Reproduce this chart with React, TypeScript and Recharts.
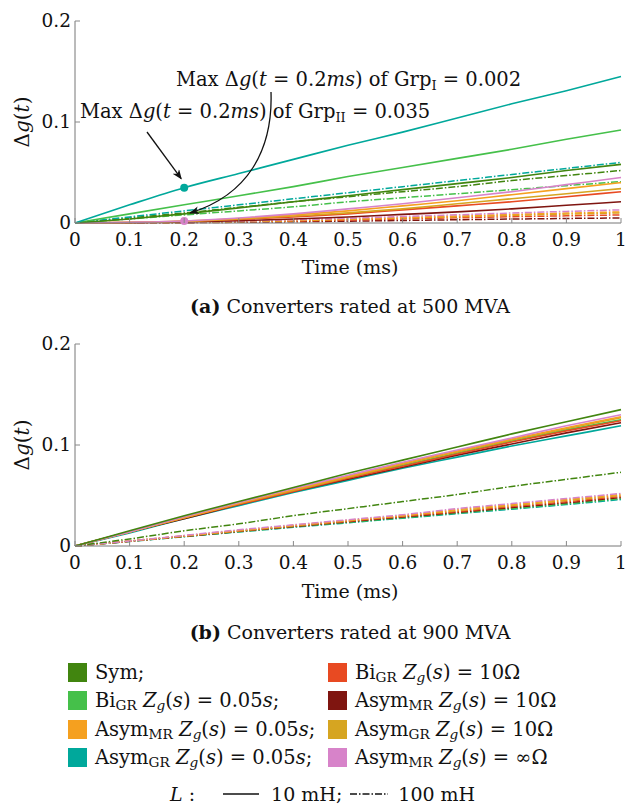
import React from 'react';
import { LineChart, Line, XAxis, YAxis, ReferenceDot } from 'recharts';

// time samples (ms)
const T = [0, 0.1, 0.2, 0.3, 0.4, 0.5, 0.6, 0.7, 0.8, 0.9, 1];
const X_TICKS = [0, 0.1, 0.2, 0.3, 0.4, 0.5, 0.6, 0.7, 0.8, 0.9, 1];
const Y_TICKS = [0, 0.1, 0.2];

// (a) 500 MVA, L = 10 mH
const a10_sym = [0, 0.004, 0.009, 0.015, 0.021, 0.027, 0.033, 0.039, 0.045, 0.052, 0.058];
const a10_biGR05 = [0, 0.009, 0.018, 0.027, 0.036, 0.046, 0.055, 0.064, 0.073, 0.083, 0.092];
const a10_asymMR05 = [0, 0.0006, 0.002, 0.0045, 0.008, 0.012, 0.017, 0.022, 0.028, 0.034, 0.040];
const a10_asymGR05 = [0, 0.018, 0.035, 0.049, 0.063, 0.077, 0.090, 0.104, 0.118, 0.131, 0.145];
const a10_biGR10 = [0, 0.0004, 0.0015, 0.0035, 0.006, 0.009, 0.013, 0.017, 0.021, 0.026, 0.031];
const a10_asymMR10 = [0, 0.0003, 0.001, 0.0023, 0.004, 0.006, 0.0085, 0.011, 0.014, 0.0175, 0.021];
const a10_asymGR10 = [0, 0.0005, 0.0017, 0.004, 0.007, 0.010, 0.014, 0.019, 0.024, 0.029, 0.034];
const a10_asymMRinf = [0, 0.0007, 0.002, 0.005, 0.009, 0.014, 0.019, 0.025, 0.031, 0.038, 0.045];

// (a) 500 MVA, L = 100 mH
const a100_sym = [0, 0.005, 0.010, 0.0155, 0.021, 0.026, 0.031, 0.036, 0.042, 0.047, 0.052];
const a100_biGR05 = [0, 0.004, 0.008, 0.012, 0.016, 0.021, 0.025, 0.029, 0.033, 0.037, 0.041];
const a100_asymMR05 = [0, 0.0002, 0.0007, 0.0015, 0.0026, 0.004, 0.0054, 0.0069, 0.0085, 0.0098, 0.011];
const a100_asymGR05 = [0, 0.006, 0.012, 0.018, 0.024, 0.030, 0.036, 0.042, 0.048, 0.054, 0.060];
const a100_biGR10 = [0, 0.0001, 0.0005, 0.0011, 0.0019, 0.0029, 0.004, 0.0051, 0.0062, 0.0071, 0.008];
const a100_asymMR10 = [0, 0.0001, 0.0003, 0.0007, 0.0012, 0.0018, 0.0025, 0.0032, 0.0039, 0.0045, 0.005];
const a100_asymGR10 = [0, 0.0002, 0.0006, 0.0013, 0.0023, 0.0036, 0.0049, 0.0062, 0.0076, 0.0088, 0.010];
const a100_asymMRinf = [0, 0.0003, 0.0009, 0.0019, 0.0032, 0.0047, 0.0064, 0.0081, 0.0099, 0.0115, 0.013];

// (b) 900 MVA, L = 10 mH
const b10_sym = [0, 0.015, 0.030, 0.044, 0.058, 0.072, 0.085, 0.098, 0.111, 0.123, 0.135];
const b10_biGR05 = [0, 0.014, 0.028, 0.042, 0.055, 0.068, 0.080, 0.092, 0.104, 0.115, 0.125];
const b10_asymMR05 = [0, 0.014, 0.028, 0.042, 0.056, 0.069, 0.082, 0.094, 0.106, 0.117, 0.128];
const b10_asymGR05 = [0, 0.013, 0.027, 0.040, 0.053, 0.065, 0.077, 0.088, 0.099, 0.109, 0.119];
const b10_biGR10 = [0, 0.014, 0.028, 0.041, 0.054, 0.067, 0.079, 0.091, 0.103, 0.114, 0.124];
const b10_asymMR10 = [0, 0.014, 0.027, 0.041, 0.054, 0.066, 0.078, 0.090, 0.101, 0.112, 0.122];
const b10_asymGR10 = [0, 0.014, 0.028, 0.042, 0.055, 0.068, 0.081, 0.093, 0.105, 0.116, 0.127];
const b10_asymMRinf = [0, 0.014, 0.029, 0.043, 0.057, 0.070, 0.083, 0.095, 0.107, 0.119, 0.130];

// (b) 900 MVA, L = 100 mH
const b100_sym = [0, 0.007, 0.015, 0.022, 0.030, 0.037, 0.044, 0.051, 0.059, 0.066, 0.073];
const b100_biGR05 = [0, 0.0046, 0.0094, 0.0142, 0.0189, 0.0235, 0.028, 0.0326, 0.0372, 0.0418, 0.047];
const b100_asymMR05 = [0, 0.005, 0.010, 0.0155, 0.0205, 0.0255, 0.030, 0.036, 0.041, 0.046, 0.051];
const b100_asymGR05 = [0, 0.0045, 0.0092, 0.0139, 0.0185, 0.023, 0.0275, 0.032, 0.0365, 0.041, 0.046];
const b100_biGR10 = [0, 0.0048, 0.0098, 0.0148, 0.0197, 0.0245, 0.0293, 0.034, 0.039, 0.0438, 0.049];
const b100_asymMR10 = [0, 0.0047, 0.0096, 0.0145, 0.0193, 0.024, 0.0287, 0.0333, 0.038, 0.0428, 0.048];
const b100_asymGR10 = [0, 0.005, 0.010, 0.015, 0.020, 0.025, 0.030, 0.035, 0.040, 0.045, 0.050];
const b100_asymMRinf = [0, 0.005, 0.0105, 0.016, 0.021, 0.026, 0.031, 0.037, 0.042, 0.047, 0.052];

const COLORS: { [key: string]: string } = {
  sym: '#41850f',
  biGR05: '#45c04a',
  asymMR05: '#f5a01f',
  asymGR05: '#00a89b',
  biGR10: '#e84a22',
  asymMR10: '#7f1510',
  asymGR10: '#d6a521',
  asymMRinf: '#d783c9',
};

const FONT = '"DejaVu Serif", serif';
const DASHDOT = '7 2 1.5 2';

// chart geometry (chart-local)
const W = 627;
const H = 280;
const TOP = 21;
const PLOT_H = 202;
const LEFT = 75;
const RIGHT = 6;
const BOTTOM_Y = TOP + PLOT_H;

const buildRows = (series: { [key: string]: number[] }) =>
  T.map((t, i) => {
    const row: { [key: string]: number } = { t };
    Object.keys(series).forEach((k) => {
      row[k] = series[k][i];
    });
    return row;
  });

const dataA = buildRows({
  sym_100: a100_sym, biGR05_100: a100_biGR05, asymMR05_100: a100_asymMR05, asymGR05_100: a100_asymGR05,
  biGR10_100: a100_biGR10, asymMR10_100: a100_asymMR10, asymGR10_100: a100_asymGR10, asymMRinf_100: a100_asymMRinf,
  sym_10: a10_sym, biGR05_10: a10_biGR05, asymMR05_10: a10_asymMR05, asymGR05_10: a10_asymGR05,
  biGR10_10: a10_biGR10, asymMR10_10: a10_asymMR10, asymGR10_10: a10_asymGR10, asymMRinf_10: a10_asymMRinf,
});

const dataB = buildRows({
  sym_100: b100_sym, biGR05_100: b100_biGR05, asymMR05_100: b100_asymMR05, asymGR05_100: b100_asymGR05,
  biGR10_100: b100_biGR10, asymMR10_100: b100_asymMR10, asymGR10_100: b100_asymGR10, asymMRinf_100: b100_asymMRinf,
  sym_10: b10_sym, biGR05_10: b10_biGR05, asymMR05_10: b10_asymMR05, asymGR05_10: b10_asymGR05,
  biGR10_10: b10_biGR10, asymMR10_10: b10_asymMR10, asymGR10_10: b10_asymGR10, asymMRinf_10: b10_asymMRinf,
});

// draw order: bottom of the stack first
const ORDER_A = ['asymMR10', 'biGR10', 'asymGR10', 'asymMR05', 'asymMRinf', 'biGR05', 'sym', 'asymGR05'];
const ORDER_B = ['asymGR05', 'biGR05', 'asymMR10', 'biGR10', 'asymGR10', 'asymMR05', 'asymMRinf', 'sym'];

const XTick = (props: any) => {
  const { x, payload } = props;
  return (
    <g>
      <line x1={x} x2={x} y1={BOTTOM_Y} y2={BOTTOM_Y - 5} stroke="#888" strokeWidth={1} />
      <text x={x} y={BOTTOM_Y + 23} textAnchor="middle" fontFamily={FONT} fontSize={18.5} fill="#111">
        {payload.value}
      </text>
    </g>
  );
};

const YTick = (props: any) => {
  const { y, payload } = props;
  return (
    <g>
      <line x1={LEFT} x2={LEFT + 5} y1={y} y2={y} stroke="#888" strokeWidth={1} />
      <text x={LEFT - 4} y={y + 6} textAnchor="end" fontFamily={FONT} fontSize={18.5} fill="#111">
        {payload.value}
      </text>
    </g>
  );
};

const Panel = ({ data, order, children }: { data: any[]; order: string[]; children?: React.ReactNode }) => (
  <LineChart width={W} height={H} data={data} margin={{ top: TOP, right: RIGHT, left: 0, bottom: H - TOP - PLOT_H - 40 }}>
    <XAxis
      dataKey="t"
      type="number"
      domain={[0, 1]}
      ticks={X_TICKS}
      tickLine={false}
      tickSize={0}
      height={40}
      stroke="#777"
      tick={<XTick />}
      interval={0}
    />
    <YAxis
      type="number"
      domain={[0, 0.2]}
      ticks={Y_TICKS}
      tickLine={false}
      tickSize={0}
      width={LEFT}
      stroke="#777"
      tick={<YTick />}
      interval={0}
    />
    {order.map((k) => (
      <Line
        key={k + '_100'}
        dataKey={k + '_100'}
        type="monotone"
        stroke={COLORS[k]}
        strokeWidth={1.5}
        strokeDasharray={DASHDOT}
        dot={false}
        isAnimationActive={false}
      />
    ))}
    {order.map((k) => (
      <Line
        key={k + '_10'}
        dataKey={k + '_10'}
        type="monotone"
        stroke={COLORS[k]}
        strokeWidth={1.6}
        dot={false}
        isAnimationActive={false}
      />
    ))}
    {children}
  </LineChart>
);

const textStyle: React.CSSProperties = { fontFamily: FONT, color: '#111', position: 'absolute', whiteSpace: 'nowrap' };

const YLabel = ({ top }: { top: number }) => (
  <div
    style={{
      ...textStyle,
      fontSize: 20,
      left: 22,
      top: top,
      transform: 'translate(-50%, -50%) rotate(-90deg)',
    }}
  >
    Δ<i>g</i>(<i>t</i>)
  </div>
);

const Center = ({ top, children, size = 19 }: { top: number; children: React.ReactNode; size?: number }) => (
  <div style={{ ...textStyle, fontSize: size, left: 350, top, transform: 'translate(-50%, -50%)' }}>{children}</div>
);

const Sub = ({ children }: { children: React.ReactNode }) => (
  <sub style={{ fontSize: '0.7em', verticalAlign: '-0.25em', lineHeight: 0 }}>{children}</sub>
);

const LegendItem = ({ color, children }: { color: string; children: React.ReactNode }) => (
  <div style={{ display: 'flex', alignItems: 'center', height: 28.5 }}>
    <span style={{ display: 'inline-block', width: 19, height: 19, background: color, marginRight: 8 }} />
    <span>{children}</span>
  </div>
);

const Zg = () => (
  <>
    {' '}
    <i>Z</i>
    <Sub>
      <i>g</i>
    </Sub>
    (<i>s</i>)
  </>
);

export default function App() {
  const plotW = W - LEFT - RIGHT;
  const px = (t: number) => LEFT + t * plotW;
  const py = (v: number) => TOP + PLOT_H - (v / 0.2) * PLOT_H;
  return (
    <div style={{ position: 'absolute', left: 0, top: 0, width: 627, height: 805, background: '#fff', overflow: 'hidden' }}>
      {/* panel (a) */}
      <div style={{ position: 'absolute', left: 0, top: 0 }}>
        <Panel data={dataA} order={ORDER_A}>
          <ReferenceDot x={0.2} y={0.035} r={4} fill={COLORS.asymGR05} stroke="none" isFront />
          <ReferenceDot x={0.2} y={0.002} r={4} fill={COLORS.asymMRinf} stroke="none" isFront />
        </Panel>
        <svg width={W} height={H} style={{ position: 'absolute', left: 0, top: 0, pointerEvents: 'none' }}>
          <defs>
            <marker id="ah" markerWidth="10" markerHeight="8" refX="9" refY="4" orient="auto" markerUnits="userSpaceOnUse">
              <path d="M0,0 L10,4 L0,8 L3,4 Z" fill="#111" />
            </marker>
          </defs>
          <text x={176} y={86} fontFamily={FONT} fontSize={19.5} fill="#111">
            Max Δ<tspan fontStyle="italic">g</tspan>(<tspan fontStyle="italic">t</tspan> = 0.2
            <tspan fontStyle="italic">ms</tspan>) of Grp<tspan dy={4} fontSize={13}>I</tspan>
            <tspan dy={-4}> = 0.002</tspan>
          </text>
          <text x={80} y={118} fontFamily={FONT} fontSize={19.5} fill="#111">
            Max Δ<tspan fontStyle="italic">g</tspan>(<tspan fontStyle="italic">t</tspan> = 0.2
            <tspan fontStyle="italic">ms</tspan>) of Grp<tspan dy={4} fontSize={13}>II</tspan>
            <tspan dy={-4}> = 0.035</tspan>
          </text>
          <line x1={147} y1={132} x2={px(0.2) - 3} y2={py(0.035) - 9} stroke="#111" strokeWidth={1.3} markerEnd="url(#ah)" />
          <path
            d={`M271,92 C273,150 248,195 ${px(0.2) + 6},${py(0.01)}`}
            fill="none"
            stroke="#111"
            strokeWidth={1.3}
            markerEnd="url(#ah)"
          />
        </svg>
        <YLabel top={TOP + PLOT_H / 2} />
        <Center top={267}>Time (ms)</Center>
        <Center top={306}>
          <b>(a)</b> Converters rated at 500 MVA
        </Center>
      </div>

      {/* panel (b) */}
      <div style={{ position: 'absolute', left: 0, top: 323 }}>
        <Panel data={dataB} order={ORDER_B} />
        <YLabel top={TOP + PLOT_H / 2} />
        <Center top={268}>Time (ms)</Center>
        <Center top={309}>
          <b>(b)</b> Converters rated at 900 MVA
        </Center>
      </div>

      {/* legend */}
      <div style={{ ...textStyle, fontSize: 19.5, left: 68, top: 658 }}>
        <LegendItem color={COLORS.sym}>Sym;</LegendItem>
        <LegendItem color={COLORS.biGR05}>
          Bi<Sub>GR</Sub>
          <Zg /> = 0.05<i>s</i>;
        </LegendItem>
        <LegendItem color={COLORS.asymMR05}>
          Asym<Sub>MR</Sub>
          <Zg /> = 0.05<i>s</i>;
        </LegendItem>
        <LegendItem color={COLORS.asymGR05}>
          Asym<Sub>GR</Sub>
          <Zg /> = 0.05<i>s</i>;
        </LegendItem>
      </div>
      <div style={{ ...textStyle, fontSize: 19.5, left: 328, top: 658 }}>
        <LegendItem color={COLORS.biGR10}>
          Bi<Sub>GR</Sub>
          <Zg /> = 10Ω
        </LegendItem>
        <LegendItem color={COLORS.asymMR10}>
          Asym<Sub>MR</Sub>
          <Zg /> = 10Ω
        </LegendItem>
        <LegendItem color={COLORS.asymGR10}>
          Asym<Sub>GR</Sub>
          <Zg /> = 10Ω
        </LegendItem>
        <LegendItem color={COLORS.asymMRinf}>
          Asym<Sub>MR</Sub>
          <Zg /> = ∞Ω
        </LegendItem>
      </div>
      <div style={{ ...textStyle, fontSize: 19, left: 170, top: 783, display: 'flex', alignItems: 'center' }}>
        <i>L</i>&nbsp;:
        <svg width={46} height={10} style={{ marginLeft: 26, marginRight: 4 }}>
          <line x1={2} x2={38} y1={5} y2={5} stroke="#111" strokeWidth={1.6} />
        </svg>
        10 mH;
        <svg width={44} height={10} style={{ marginLeft: 6, marginRight: 6 }}>
          <line x1={2} x2={40} y1={5} y2={5} stroke="#111" strokeWidth={1.4} strokeDasharray={DASHDOT} />
        </svg>
        100 mH
      </div>
    </div>
  );
}
